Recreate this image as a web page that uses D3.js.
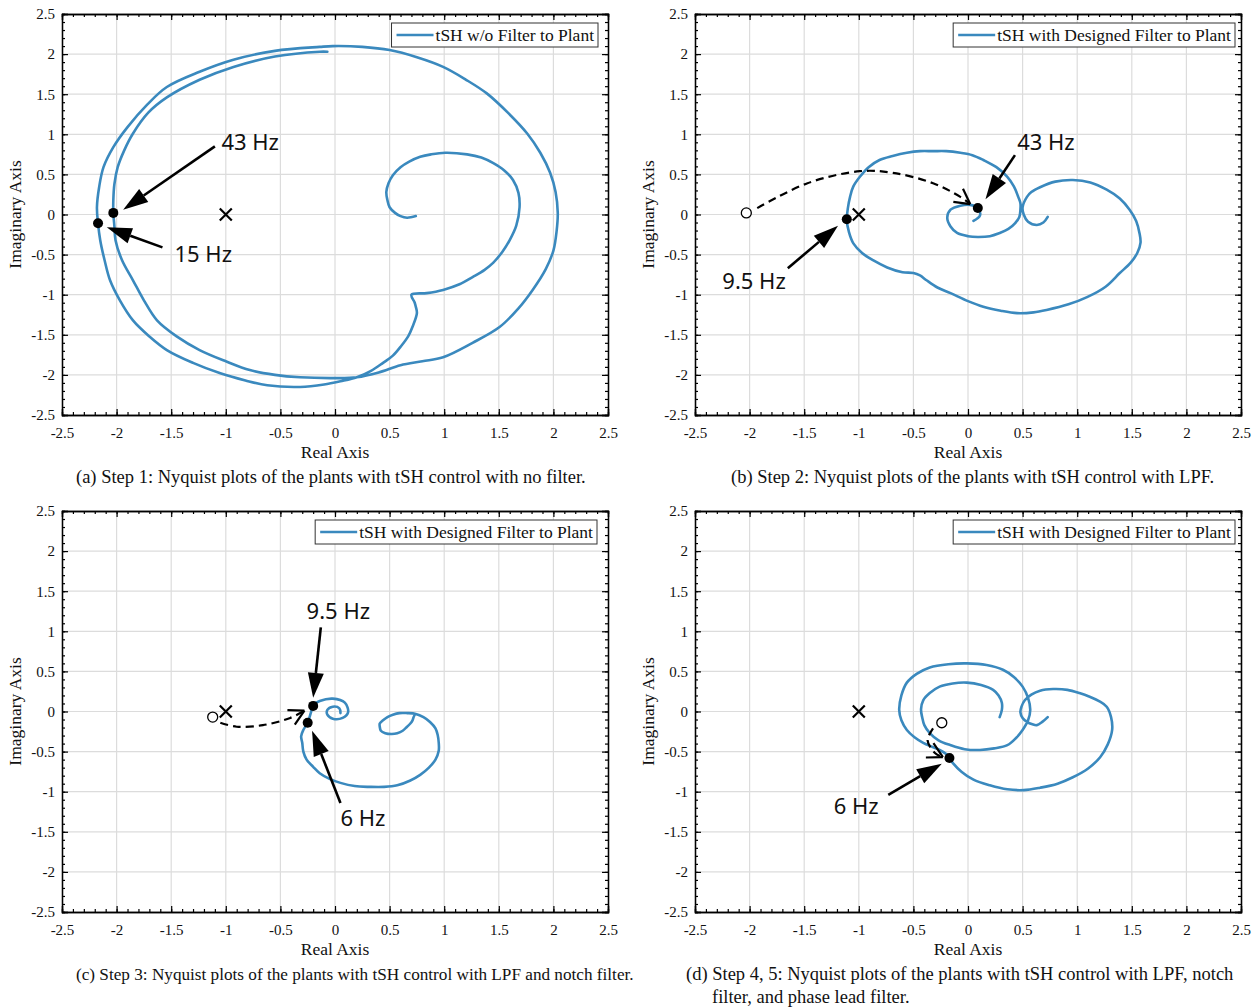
<!DOCTYPE html>
<html>
<head>
<meta charset="utf-8">
<script src="https://cdn.jsdelivr.net/npm/d3@7"></script>
<style>
  body { margin: 0; background: #fff; }
  text { font-family: "Liberation Serif", "Times New Roman", serif; fill: #111; }
  .note { font-family: "Noto Sans", "Open Sans", sans-serif; font-size: 22px; }
</style>
</head>
<body>
<svg id="fig" width="1260" height="1007"></svg>
<script>
// ---- data (Re, Im) ----
const tickVals = [-2.5, -2, -1.5, -1, -0.5, 0, 0.5, 1, 1.5, 2, 2.5];

const nyqA = [
  [-0.07,2.03],[-0.14,2.03],[-0.55,1.97],[-0.93,1.84],[-1.24,1.68],[-1.54,1.46],[-1.71,1.27],[-1.85,1.01],
  [-1.93,0.80],[-1.99,0.59],[-2.02,0.38],[-2.03,0.18],[-2.03,0.02],[-2.02,-0.15],[-2.01,-0.32],[-1.95,-0.57],
  [-1.85,-0.82],[-1.75,-1.07],[-1.63,-1.32],[-1.45,-1.52],[-1.24,-1.69],[-1.0,-1.83],[-0.78,-1.94],[-0.55,-2.0],
  [-0.32,-2.03],[0,-2.04],[0.2,-2.03],[0.4,-1.97],[0.6,-1.88],[0.8,-1.83],[0.99,-1.78],[1.26,-1.6],
  [1.51,-1.4],[1.68,-1.17],[1.81,-0.94],[1.93,-0.68],[2.0,-0.45],[2.03,-0.2],[2.04,0.02],[2.02,0.28],
  [1.97,0.52],[1.88,0.77],[1.76,1.01],[1.59,1.26],[1.39,1.51],[1.2,1.68],[0.99,1.84],[0.75,1.96],
  [0.5,2.05],[0.25,2.09],[-0.02,2.1],[-0.14,2.09],[-0.55,2.04],[-0.93,1.93],[-1.24,1.78],[-1.54,1.59],
  [-1.72,1.37],[-1.9,1.09],[-2.03,0.84],[-2.12,0.59],[-2.16,0.34],[-2.18,0.09],[-2.17,-0.11],[-2.15,-0.32],
  [-2.11,-0.57],[-2.06,-0.82],[-1.97,-1.07],[-1.85,-1.32],[-1.7,-1.52],[-1.54,-1.69],[-1.3,-1.85],[-1.05,-1.98],
  [-0.82,-2.07],[-0.62,-2.13],[-0.32,-2.15],[-0.1,-2.12],[0.05,-2.08],[0.2,-2.03],[0.33,-1.95],[0.44,-1.85],
  [0.53,-1.76],[0.6,-1.65],[0.67,-1.52],[0.71,-1.4],[0.75,-1.23],[0.74,-1.15],[0.73,-1.1],[0.70,-1.0],
  [0.84,-0.98],[0.99,-0.94],[1.14,-0.87],[1.26,-0.78],[1.37,-0.69],[1.45,-0.6],[1.53,-0.47],[1.6,-0.32],
  [1.66,-0.14],[1.69,0.09],[1.68,0.27],[1.63,0.43],[1.55,0.55],[1.45,0.64],[1.34,0.71],[1.21,0.75],
  [1.01,0.77],[0.88,0.75],[0.78,0.72],[0.68,0.66],[0.6,0.59],[0.53,0.49],[0.49,0.39],[0.47,0.28],
  [0.48,0.18],[0.5,0.09],[0.55,0.02],[0.6,-0.02],[0.66,-0.04],[0.74,-0.02]
];

const nyqB = [
  [0.05,-0.08],[0.11,-0.01],[0.09,0.08],[0.02,0.12],[-0.07,0.11],[-0.16,0.06],[-0.19,-0.04],[-0.16,-0.15],
  [-0.1,-0.23],[0.0,-0.27],[0.09,-0.28],[0.2,-0.27],[0.29,-0.23],[0.37,-0.18],[0.43,-0.11],[0.47,-0.03],
  [0.48,0.06],[0.48,0.14],[0.46,0.22],[0.42,0.35],[0.36,0.47],[0.26,0.59],[0.14,0.68],[0.04,0.74],
  [-0.07,0.77],[-0.2,0.79],[-0.32,0.79],[-0.44,0.79],[-0.56,0.77],[-0.69,0.73],[-0.81,0.68],[-0.91,0.59],
  [-0.99,0.47],[-1.05,0.35],[-1.08,0.22],[-1.1,0.08],[-1.11,-0.07],[-1.09,-0.22],[-1.05,-0.36],[-0.97,-0.48],
  [-0.87,-0.57],[-0.74,-0.66],[-0.6,-0.72],[-0.5,-0.73],[-0.44,-0.76],[-0.38,-0.82],[-0.28,-0.91],[-0.16,-0.98],
  [0.0,-1.08],[0.14,-1.15],[0.3,-1.2],[0.45,-1.23],[0.6,-1.22],[0.72,-1.19],[0.92,-1.12],[1.09,-1.03],
  [1.26,-0.9],[1.39,-0.73],[1.49,-0.6],[1.55,-0.48],[1.58,-0.35],[1.57,-0.23],[1.54,-0.08],[1.48,0.06],
  [1.39,0.2],[1.27,0.31],[1.12,0.4],[0.96,0.43],[0.8,0.41],[0.66,0.34],[0.58,0.28],[0.54,0.22],
  [0.5,0.09],[0.51,0.0],[0.55,-0.09],[0.63,-0.13],[0.69,-0.1],[0.73,-0.03]
];

const nyqC = [
  [0.05,-0.02],[0.04,0.04],[-0.02,0.06],[-0.07,0.02],[-0.07,-0.04],[-0.02,-0.09],[0.07,-0.08],[0.12,-0.01],
  [0.09,0.11],[-0.02,0.16],[-0.14,0.13],[-0.2,0.08],[-0.22,-0.01],[-0.25,-0.14],[-0.29,-0.23],[-0.31,-0.31],
  [-0.3,-0.39],[-0.29,-0.5],[-0.26,-0.6],[-0.2,-0.69],[-0.14,-0.77],[-0.05,-0.84],[0.05,-0.89],[0.18,-0.93],
  [0.32,-0.94],[0.45,-0.94],[0.57,-0.92],[0.69,-0.86],[0.78,-0.79],[0.86,-0.7],[0.92,-0.6],[0.95,-0.49],
  [0.95,-0.39],[0.94,-0.29],[0.92,-0.21],[0.87,-0.13],[0.81,-0.07],[0.74,-0.03],[0.66,-0.02],[0.59,-0.02],
  [0.53,-0.04],[0.48,-0.07],[0.44,-0.11],[0.41,-0.15],[0.41,-0.19],[0.42,-0.24],[0.46,-0.27],[0.52,-0.28],
  [0.57,-0.27],[0.62,-0.24],[0.66,-0.19],[0.69,-0.15],[0.71,-0.11],[0.72,-0.07],[0.73,-0.04]
];

const nyqD = [
  [0.29,-0.07],[0.31,0.02],[0.31,0.11],[0.28,0.2],[0.23,0.27],[0.12,0.33],[-0.01,0.36],[-0.14,0.35],
  [-0.26,0.31],[-0.35,0.23],[-0.41,0.14],[-0.43,0.03],[-0.42,-0.07],[-0.4,-0.17],[-0.35,-0.27],[-0.27,-0.36],
  [-0.16,-0.42],[-0.03,-0.47],[0.11,-0.48],[0.24,-0.46],[0.36,-0.42],[0.44,-0.33],[0.5,-0.23],[0.55,-0.11],
  [0.57,0.02],[0.55,0.17],[0.5,0.31],[0.42,0.43],[0.32,0.52],[0.17,0.58],[-0.01,0.6],[-0.18,0.59],
  [-0.35,0.55],[-0.47,0.47],[-0.56,0.36],[-0.61,0.2],[-0.63,0.02],[-0.61,-0.11],[-0.56,-0.23],[-0.49,-0.32],
  [-0.41,-0.39],[-0.33,-0.44],[-0.26,-0.48],[-0.2,-0.53],[-0.17,-0.58],[-0.14,-0.64],[-0.06,-0.75],[0.05,-0.85],
  [0.2,-0.92],[0.36,-0.97],[0.51,-0.98],[0.66,-0.95],[0.82,-0.9],[0.96,-0.82],[1.1,-0.71],[1.21,-0.57],
  [1.28,-0.41],[1.32,-0.23],[1.31,-0.07],[1.27,0.06],[1.2,0.13],[1.12,0.18],[1.02,0.23],[0.91,0.27],
  [0.78,0.28],[0.66,0.26],[0.58,0.21],[0.52,0.14],[0.49,0.06],[0.48,-0.01],[0.5,-0.08],[0.54,-0.13],
  [0.59,-0.16],[0.63,-0.17],[0.68,-0.13],[0.73,-0.07]
];

// dashed "moves to" paths: open circle start -> arrow tip
const dashB = [[-2.03,0.02],[-1.93,0.08],[-1.47,0.39],[-0.99,0.54],[-0.69,0.52],[-0.32,0.39],[-0.07,0.22],[0.02,0.13]];
const dashC = [[-1.12,-0.07],[-1.05,-0.14],[-0.9,-0.19],[-0.66,-0.17],[-0.41,-0.08],[-0.28,0.01]];
const dashD = [[-0.24,-0.14],[-0.32,-0.21],[-0.37,-0.36],[-0.3,-0.52],[-0.23,-0.57]];

// frequency points: label, text start, arrow start, arrow tip, point
const notesA = [
  { label: "43 Hz", text: [-1.04, 0.8], from: [-1.1, 0.85], to: [-1.94, 0.06], pt: [-2.03, 0.02] },
  { label: "15 Hz", text: [-1.47, -0.59], from: [-1.58, -0.41], to: [-2.09, -0.16], pt: [-2.17, -0.11] }
];
const notesB = [
  { label: "43 Hz", text: [0.45, 0.8], from: [0.43, 0.74], to: [0.16, 0.19], pt: [0.09, 0.08] },
  { label: "9.5 Hz", text: [-2.25, -0.93], from: [-1.65, -0.67], to: [-1.19, -0.14], pt: [-1.11, -0.06] }
];
const notesC = [
  { label: "9.5 Hz", text: [-0.26, 1.15], from: [-0.13, 1.05], to: [-0.2, 0.17], pt: [-0.2, 0.07] },
  { label: "6 Hz", text: [0.05, -1.43], from: [0.05, -1.14], to: [-0.21, -0.24], pt: [-0.25, -0.14] }
];
const notesD = [
  { label: "6 Hz", text: [-1.23, -1.28], from: [-0.73, -1.04], to: [-0.24, -0.65], pt: [-0.17, -0.58] }
];

const criticalPt = [-1, 0];

const legendA = "tSH w/o Filter to Plant";
const legendBCD = "tSH with Designed Filter to Plant";

const captions = [
  ["(a) Step 1: Nyquist plots of the plants with tSH control with no filter."],
  ["(b) Step 2: Nyquist plots of the plants with tSH control with LPF."],
  ["(c) Step 3: Nyquist plots of the plants with tSH control with LPF and notch filter."],
  ["(d) Step 4, 5: Nyquist plots of the plants with tSH control with LPF, notch", "filter, and phase lead filter."]
];

// ---- layout ----
const W = 546, H = 401;
const blue = "#3a89be";
const panels = [
  { left: 62,  top: 14,  curve: nyqA, dash: null,  notes: notesA, legend: legendA,   legRight: 598,  cap: captions[0], capX: 76,  capSize: 18.5 },
  { left: 695, top: 14,  curve: nyqB, dash: dashB, notes: notesB, legend: legendBCD, legRight: 1235, cap: captions[1], capX: 731, capSize: 18.5 },
  { left: 62,  top: 511, curve: nyqC, dash: dashC, notes: notesC, legend: legendBCD, legRight: 597,  cap: captions[2], capX: 76,  capSize: 17.2 },
  { left: 695, top: 511, curve: nyqD, dash: dashD, notes: notesD, legend: legendBCD, legRight: 1235, cap: captions[3], capX: 686, capSize: 18.5 }
];

const svg = d3.select("#fig");
svg.append("rect").attr("width", 1260).attr("height", 1007).attr("fill", "#fff");

const x = d3.scaleLinear().domain([-2.5, 2.5]).range([0, W]);
const y = d3.scaleLinear().domain([-2.5, 2.5]).range([H, 0]);
const minor = d3.range(-25, 26).map(d => d / 10);
const line = d3.line().x(d => x(d[0])).y(d => y(d[1])).curve(d3.curveCatmullRom.alpha(0.5));

function solidArrow(g, from, to) {
  const x1 = x(from[0]), y1 = y(from[1]), x2 = x(to[0]), y2 = y(to[1]);
  const a = Math.atan2(y2 - y1, x2 - x1);
  const len = 25, hw = 8;
  const bx = x2 - len * Math.cos(a), by = y2 - len * Math.sin(a);
  g.append("line").attr("x1", x1).attr("y1", y1).attr("x2", bx).attr("y2", by)
    .attr("stroke", "#000").attr("stroke-width", 2.6);
  g.append("path")
    .attr("d", `M${x2},${y2}L${bx - hw * Math.sin(a)},${by + hw * Math.cos(a)}L${bx + hw * Math.sin(a)},${by - hw * Math.cos(a)}Z`)
    .attr("fill", "#000");
}

panels.forEach(p => {
  const g = svg.append("g").attr("transform", `translate(${p.left},${p.top})`);

  // grid
  g.append("g").selectAll("line").data(tickVals.slice(1, -1)).join("line")
    .attr("x1", d => x(d)).attr("x2", d => x(d)).attr("y1", 0).attr("y2", H)
    .attr("stroke", "#dcdcdc").attr("stroke-width", 1.2);
  g.append("g").selectAll("line").data(tickVals.slice(1, -1)).join("line")
    .attr("y1", d => y(d)).attr("y2", d => y(d)).attr("x1", 0).attr("x2", W)
    .attr("stroke", "#dcdcdc").attr("stroke-width", 1.2);

  // axes with inward ticks on all four sides
  const fmt = d => String(d);
  const bottom = g.append("g").attr("transform", `translate(0,${H})`)
    .call(d3.axisBottom(x).tickValues(tickVals).tickSize(-6).tickPadding(12).tickFormat(fmt));
  const left = g.append("g")
    .call(d3.axisLeft(y).tickValues(tickVals).tickSize(-6).tickPadding(7).tickFormat(fmt));
  g.append("g").call(d3.axisTop(x).tickValues(tickVals).tickSize(-6).tickFormat(""));
  g.append("g").attr("transform", `translate(${W},0)`).call(d3.axisRight(y).tickValues(tickVals).tickSize(-6).tickFormat(""));
  g.append("g").attr("transform", `translate(0,${H})`).call(d3.axisBottom(x).tickValues(minor).tickSize(-3).tickFormat(""));
  g.append("g").call(d3.axisLeft(y).tickValues(minor).tickSize(-3).tickFormat(""));
  g.append("g").call(d3.axisTop(x).tickValues(minor).tickSize(-3).tickFormat(""));
  g.append("g").attr("transform", `translate(${W},0)`).call(d3.axisRight(y).tickValues(minor).tickSize(-3).tickFormat(""));
  g.selectAll(".domain").attr("stroke", "#000").attr("stroke-width", 1.3);
  g.selectAll(".tick line").attr("stroke", "#000").attr("stroke-width", 1.2);
  bottom.selectAll("text").style("font-family", "Liberation Serif").style("font-size", "15px").attr("fill", "#111");
  left.selectAll("text").style("font-family", "Liberation Serif").style("font-size", "15px").attr("fill", "#111");

  // axis titles
  g.append("text").attr("x", W / 2).attr("y", H + 43).attr("text-anchor", "middle")
    .style("font-size", "17.5px").text("Real Axis");
  g.append("text").attr("transform", `translate(-41,${H / 2}) rotate(-90)`).attr("text-anchor", "middle")
    .style("font-size", "17.5px").text("Imaginary Axis");

  // nyquist curve
  g.append("path").attr("d", line(p.curve)).attr("fill", "none")
    .attr("stroke", blue).attr("stroke-width", 2.6).attr("stroke-linecap", "round").attr("stroke-linejoin", "round");

  // critical point
  const cx = x(criticalPt[0]), cy = y(criticalPt[1]), s = 6;
  g.append("path").attr("d", `M${cx - s},${cy - s}L${cx + s},${cy + s}M${cx - s},${cy + s}L${cx + s},${cy - s}`)
    .attr("stroke", "#000").attr("stroke-width", 2.2);

  // dashed movement arrow
  if (p.dash) {
    g.append("path").attr("d", line(p.dash.slice(1))).attr("fill", "none")
      .attr("stroke", "#000").attr("stroke-width", 2.2).attr("stroke-dasharray", "8,5");
    const n = p.dash.length;
    const tip = p.dash[n - 1], prev = p.dash[n - 2];
    const tx = x(tip[0]), ty = y(tip[1]);
    const a = Math.atan2(ty - y(prev[1]), tx - x(prev[0]));
    [0.5, -0.5].forEach(da => {
      g.append("line").attr("x1", tx).attr("y1", ty)
        .attr("x2", tx - 17 * Math.cos(a + da)).attr("y2", ty - 17 * Math.sin(a + da))
        .attr("stroke", "#000").attr("stroke-width", 2.2);
    });
    g.append("circle").attr("cx", x(p.dash[0][0])).attr("cy", y(p.dash[0][1])).attr("r", 5)
      .attr("fill", "#fff").attr("stroke", "#000").attr("stroke-width", 1.3);
  }

  // frequency annotations
  p.notes.forEach(nt => {
    solidArrow(g, nt.from, nt.to);
    g.append("circle").attr("cx", x(nt.pt[0])).attr("cy", y(nt.pt[1])).attr("r", 5).attr("fill", "#000");
    g.append("text").attr("class", "note").attr("x", x(nt.text[0])).attr("y", y(nt.text[1])).text(nt.label);
  });

  // legend
  const lg = svg.append("g");
  const lt = lg.append("text").attr("y", p.top + 27).style("font-size", "17.5px").text(p.legend);
  const tw = lt.node().getComputedTextLength();
  const bx = p.legRight - tw - 48;
  lg.insert("rect", "text").attr("x", bx).attr("y", p.top + 9).attr("width", p.legRight - bx).attr("height", 24)
    .attr("fill", "#fff").attr("stroke", "#333").attr("stroke-width", 1);
  lg.append("line").attr("x1", bx + 5).attr("x2", bx + 42).attr("y1", p.top + 21).attr("y2", p.top + 21)
    .attr("stroke", blue).attr("stroke-width", 2.6);
  lt.attr("x", bx + 44);

  // caption
  p.cap.forEach((c, i) => {
    svg.append("text").attr("x", p.capX + (i ? 26 : 0)).attr("y", p.top + H + 68 + i * 23)
      .style("font-size", p.capSize + "px").text(c);
  });
});
</script>
</body>
</html>
